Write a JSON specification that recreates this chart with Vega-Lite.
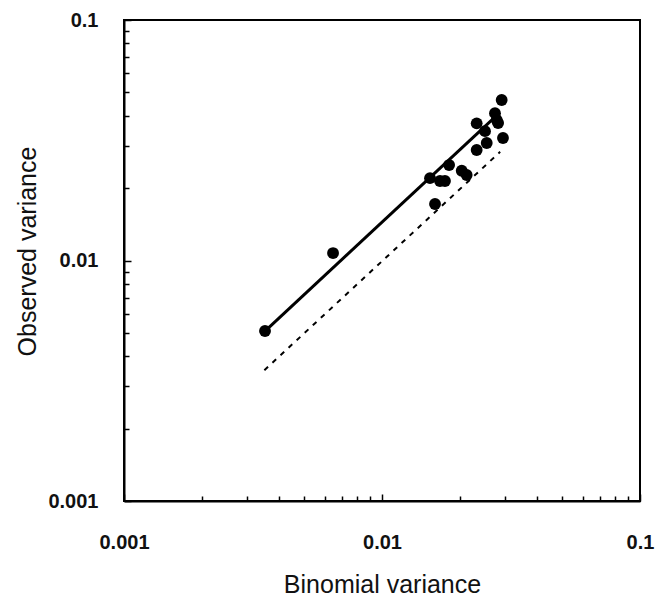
{
  "$schema": "https://vega.github.io/schema/vega-lite/v6.json",
  "autosize": "none",
  "padding": {"left": 124, "top": 20, "right": 27, "bottom": 95},
  "width": 516,
  "height": 481,
  "background": "white",
  "config": {
    "view": {"stroke": "black", "strokeWidth": 2},
    "axis": {
      "domainColor": "black", "domainWidth": 2,
      "tickColor": "black", "tickWidth": 1.5,
      "grid": false,
      "labelFont": "Liberation Sans", "labelFontWeight": "bold", "labelFontSize": 20, "labelColor": "#111",
      "titleFont": "Liberation Sans", "titleFontWeight": "normal", "titleFontSize": 25, "titleColor": "#111",
      "labelOverlap": false, "labelFlush": false
    }
  },
  "datasets": {
    "points": [
      {"binomial": 0.00352, "observed": 0.00509},
      {"binomial": 0.00646, "observed": 0.01074},
      {"binomial": 0.01535, "observed": 0.0220},
      {"binomial": 0.01678, "observed": 0.0214},
      {"binomial": 0.01754, "observed": 0.0214},
      {"binomial": 0.01605, "observed": 0.01718},
      {"binomial": 0.0182, "observed": 0.02494},
      {"binomial": 0.02037, "observed": 0.02361},
      {"binomial": 0.02129, "observed": 0.02267},
      {"binomial": 0.02328, "observed": 0.03718},
      {"binomial": 0.02328, "observed": 0.0288},
      {"binomial": 0.02546, "observed": 0.0308},
      {"binomial": 0.02508, "observed": 0.0345},
      {"binomial": 0.02741, "observed": 0.0410},
      {"binomial": 0.02784, "observed": 0.0384},
      {"binomial": 0.0291, "observed": 0.0465},
      {"binomial": 0.02944, "observed": 0.0323},
      {"binomial": 0.02818, "observed": 0.0373}
    ],
    "fit": [
      {"binomial": 0.00352, "observed": 0.00509},
      {"binomial": 0.0286, "observed": 0.0412}
    ],
    "ref": [
      {"binomial": 0.0035, "observed": 0.0035},
      {"binomial": 0.0287, "observed": 0.0283}
    ]
  },
  "encoding": {
    "x": {
      "field": "binomial", "type": "quantitative",
      "scale": {"type": "log", "domain": [0.001, 0.1], "nice": false},
      "axis": {
        "title": "Binomial variance",
        "values": [0.001,0.002,0.003,0.004,0.005,0.006,0.007,0.008,0.009,0.01,0.02,0.03,0.04,0.05,0.06,0.07,0.08,0.09,0.1],
        "format": "~g",
        "labelExpr": "abs(log(datum.value)/LN10 - round(log(datum.value)/LN10)) < 1e-6 ? datum.label : ''",
        "tickSize": {"condition": {"test": "abs(log(datum.value)/LN10 - round(log(datum.value)/LN10)) < 1e-6", "value": -7}, "value": -5},
        "labelPadding": 38,
        "titleBaseline": "alphabetic",
        "titleY": 91
      }
    },
    "y": {
      "field": "observed", "type": "quantitative",
      "scale": {"type": "log", "domain": [0.001, 0.1], "nice": false},
      "axis": {
        "title": "Observed variance",
        "values": [0.001,0.002,0.003,0.004,0.005,0.006,0.007,0.008,0.009,0.01,0.02,0.03,0.04,0.05,0.06,0.07,0.08,0.09,0.1],
        "format": "~g",
        "labelExpr": "abs(log(datum.value)/LN10 - round(log(datum.value)/LN10)) < 1e-6 ? datum.label : ''",
        "tickSize": {"condition": {"test": "abs(log(datum.value)/LN10 - round(log(datum.value)/LN10)) < 1e-6", "value": -7}, "value": -5},
        "labelPadding": 33,
        "titleBaseline": "alphabetic",
        "titleX": -89,
        "titleY": 231
      }
    }
  },
  "layer": [
    {
      "data": {"name": "ref"},
      "mark": {"type": "line", "color": "black", "strokeWidth": 2, "strokeDash": [5, 6]},
      "encoding": {}
    },
    {
      "data": {"name": "fit"},
      "mark": {"type": "line", "color": "black", "strokeWidth": 3},
      "encoding": {}
    },
    {
      "data": {"name": "points"},
      "mark": {"type": "point", "filled": true, "color": "black", "opacity": 1, "size": 140},
      "encoding": {}
    }
  ]
}
